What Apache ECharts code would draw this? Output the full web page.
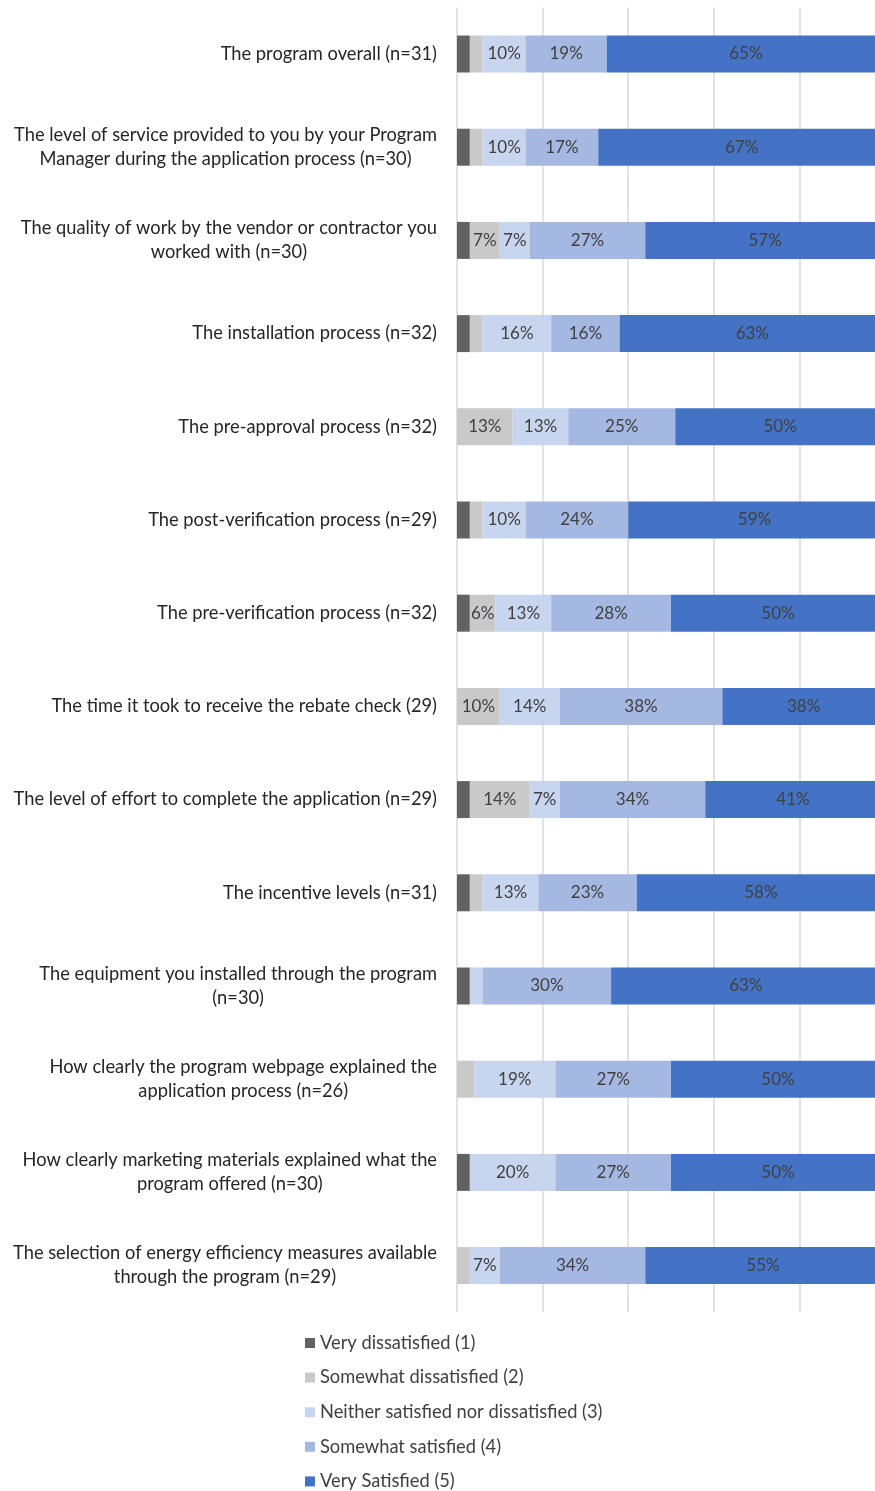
<!DOCTYPE html>
<html>
<head>
<meta charset="utf-8">
<script src="https://cdn.jsdelivr.net/npm/echarts@6/dist/echarts.min.js"></script>
<style>
  html, body { margin: 0; padding: 0; background: #ffffff; overflow: hidden; }
  /* drawing surface is a little wider than the page, so the 100% end of the bars falls just off-view */
  #chart { width: 885px; height: 1491px; }
</style>
</head>
<body>
<div id="chart"></div>
<script>
// Survey items (top to bottom)
const categories = [
  'The program overall (n=31)',
  'The level of service provided to you by your Program\nManager during the application process (n=30)',
  'The quality of work by the vendor or contractor you\nworked with (n=30)',
  'The installation process (n=32)',
  'The pre-approval process (n=32)',
  'The post-verification process (n=29)',
  'The pre-verification process (n=32)',
  'The time it took to receive the rebate check (29)',
  'The level of effort to complete the application (n=29)',
  'The incentive levels (n=31)',
  'The equipment you installed through the program\n(n=30)',
  'How clearly the program webpage explained the\napplication process (n=26)',
  'How clearly marketing materials explained what the\nprogram offered (n=30)',
  'The selection of energy efficiency measures available\nthrough the program (n=29)'
];

// Share of respondents (%) per rating
const veryDissatisfied     = [3, 3, 3, 3, 0, 3, 3, 0, 3, 3, 3, 0, 3, 0];
const somewhatDissatisfied = [3, 3, 7, 3, 13, 3, 6, 10, 14, 3, 0, 4, 0, 3];
const neither              = [10, 10, 7, 16, 13, 10, 13, 14, 7, 13, 3, 19, 20, 7];
const somewhatSatisfied    = [19, 17, 27, 16, 25, 24, 28, 38, 34, 23, 30, 27, 27, 34];
const verySatisfied        = [65, 67, 57, 63, 50, 59, 50, 38, 41, 58, 63, 50, 50, 55];

const seriesNames = [
  'Very dissatisfied (1)',
  'Somewhat dissatisfied (2)',
  'Neither satisfied nor dissatisfied (3)',
  'Somewhat satisfied (4)',
  'Very Satisfied (5)'
];
const seriesData = [veryDissatisfied, somewhatDissatisfied, neither, somewhatSatisfied, verySatisfied];
const seriesColors = ['#626262', '#c9c9c9', '#c8d5ee', '#a5b8e1', '#4472c4'];

const FONT = 'Lato, "Open Sans", sans-serif';
const CAT_SIZE = 18.3;

const chart = echarts.init(document.getElementById('chart'), null, { renderer: 'canvas' });

chart.setOption({
  animation: false,
  backgroundColor: '#ffffff',
  grid: { left: 457, width: 428, top: 7.4, height: 1304.8, containLabel: false, outerBoundsMode: 'none' },
  xAxis: {
    type: 'value',
    min: 0,
    max: 100,
    interval: 20,
    axisLabel: { show: false },
    axisLine: { show: false },
    axisTick: { show: false },
    splitLine: { show: true, showMinLine: true, lineStyle: { color: '#d9d9d9', width: 1.5 } }
  },
  yAxis: {
    type: 'category',
    inverse: true,
    data: categories,
    axisLine: { show: false },
    axisTick: { show: false },
    axisLabel: {
      margin: 20,
      align: 'right',
      fontFamily: FONT,
      fontSize: CAT_SIZE,
      color: '#262626',
      lineHeight: 24,
      formatter: function (v) {
        return v.split('\n').map(function (l) { return '{c|' + l + '}'; }).join('\n');
      },
      rich: {
        c: { align: 'center', fontFamily: FONT, fontSize: CAT_SIZE, color: '#262626', lineHeight: 24 }
      }
    }
  },
  legend: {
    orient: 'vertical',
    left: 305,
    top: 1334,
    padding: 0,
    height: 160,
    itemWidth: 10,
    itemHeight: 10,
    itemGap: 16.6,
    icon: 'rect',
    selectedMode: false,
    textStyle: { fontFamily: FONT, fontSize: 18.3, color: '#404040', lineHeight: 18 },
    data: seriesNames
  },
  series: seriesNames.map(function (name, i) {
    return {
      name: name,
      type: 'bar',
      stack: 'total',
      barWidth: 37,
      data: seriesData[i],
      itemStyle: { color: seriesColors[i] },
      emphasis: { disabled: true },
      label: {
        show: true,
        position: 'inside',
        fontFamily: FONT,
        fontSize: 17,
        color: '#404040',
        formatter: function (p) { return p.value >= 5 ? p.value + '%' : ''; }
      }
    };
  })
});
</script>
</body>
</html>
